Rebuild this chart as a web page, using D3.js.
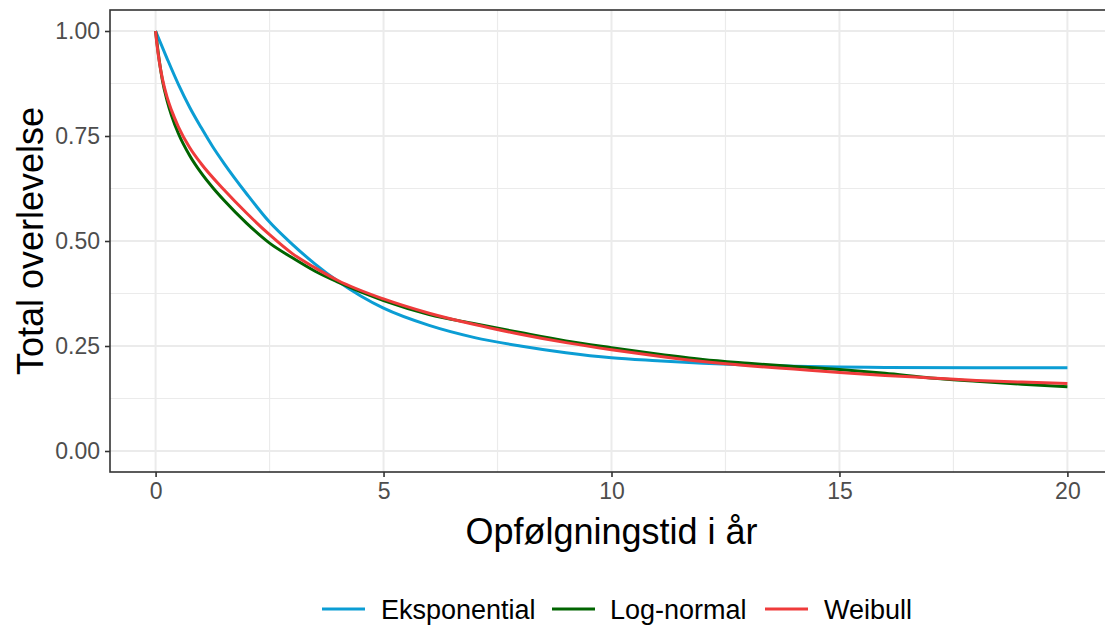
<!DOCTYPE html>
<html>
<head>
<meta charset="utf-8">
<script src="https://cdn.jsdelivr.net/npm/d3@7"></script>
<style>
  html, body { margin: 0; padding: 0; background: #ffffff; }
  svg { display: block; }
  text { font-family: "Liberation Sans", Arial, sans-serif; }
</style>
</head>
<body>
<svg id="chart" width="1105" height="626"></svg>
<script>
// ---- data ----
const seriesNames = ["Eksponential", "Log-normal", "Weibull"];
const seriesColors = ["#0b9dd4", "#006400", "#ef3b3b"];

const timeExp = [0, 0.25, 0.5, 0.75, 1, 1.25, 1.5, 2, 2.5, 3, 3.5, 4, 4.5, 5, 6, 7, 8, 9, 10, 11, 12, 13, 14, 15, 16, 18, 20];
const survExp = [1, 0.935, 0.873, 0.818, 0.770, 0.725, 0.685, 0.612, 0.545, 0.492, 0.445, 0.404, 0.369, 0.340, 0.299, 0.270, 0.250, 0.234, 0.222, 0.215, 0.209, 0.205, 0.202, 0.200, 0.199, 0.198, 0.198];

const timeLn = [0, 0.03, 0.08, 0.15, 0.25, 0.35, 0.5, 0.75, 1, 1.27, 1.5, 2, 2.5, 3, 3.5, 4, 5, 6, 7, 8, 9, 10, 11, 12, 13, 14, 15, 16, 17, 18, 19, 20];
const survLn = [1, 0.972, 0.93, 0.882, 0.835, 0.799, 0.756, 0.703, 0.662, 0.625, 0.597, 0.542, 0.495, 0.460, 0.428, 0.402, 0.358, 0.325, 0.303, 0.282, 0.262, 0.246, 0.231, 0.218, 0.209, 0.201, 0.194, 0.185, 0.174, 0.166, 0.159, 0.153];

const timeWb = [0, 0.03, 0.08, 0.15, 0.25, 0.35, 0.5, 0.75, 1, 1.5, 2, 2.5, 3, 3.5, 4, 5, 6, 7, 8, 9, 10, 11, 12, 13, 14, 15, 16, 17, 18, 19, 20];
const survWb = [1, 0.968, 0.928, 0.886, 0.843, 0.811, 0.772, 0.722, 0.684, 0.622, 0.566, 0.515, 0.470, 0.436, 0.406, 0.362, 0.328, 0.301, 0.278, 0.258, 0.241, 0.226, 0.213, 0.203, 0.195, 0.187, 0.180, 0.174, 0.168, 0.164, 0.161];

const xTicks = [0, 5, 10, 15, 20];
const xMinor = [2.5, 7.5, 12.5, 17.5];
const yTicks = [0, 0.25, 0.5, 0.75, 1];
const yMinor = [0.125, 0.375, 0.625, 0.875];
const yTickLabels = ["0.00", "0.25", "0.50", "0.75", "1.00"];

const xTitle = "Opfølgningstid i år";
const yTitle = "Total overlevelse";

// ---- layout ----
const panel = { left: 110, top: 10, right: 1113, bottom: 472 };
const svg = d3.select("#chart");

const x = d3.scaleLinear().domain([-1, 21]).range([panel.left, panel.right]);
const y = d3.scaleLinear().domain([-0.05, 1.05]).range([panel.bottom, panel.top]);

svg.append("defs").append("clipPath").attr("id", "clip")
  .append("rect")
  .attr("x", panel.left).attr("y", panel.top)
  .attr("width", panel.right - panel.left).attr("height", panel.bottom - panel.top);

const g = svg.append("g");

g.append("rect")
  .attr("x", panel.left).attr("y", panel.top)
  .attr("width", panel.right - panel.left).attr("height", panel.bottom - panel.top)
  .attr("fill", "#ffffff");

// minor grid
g.selectAll("line.xminor").data(xMinor).join("line")
  .attr("x1", d => x(d)).attr("x2", d => x(d))
  .attr("y1", panel.top).attr("y2", panel.bottom)
  .attr("stroke", "#ebebeb").attr("stroke-width", 1.2);
g.selectAll("line.yminor").data(yMinor).join("line")
  .attr("y1", d => y(d)).attr("y2", d => y(d))
  .attr("x1", panel.left).attr("x2", panel.right)
  .attr("stroke", "#ebebeb").attr("stroke-width", 1.2);
// major grid
g.selectAll("line.xmajor").data(xTicks).join("line")
  .attr("x1", d => x(d)).attr("x2", d => x(d))
  .attr("y1", panel.top).attr("y2", panel.bottom)
  .attr("stroke", "#ebebeb").attr("stroke-width", 2);
g.selectAll("line.ymajor").data(yTicks).join("line")
  .attr("y1", d => y(d)).attr("y2", d => y(d))
  .attr("x1", panel.left).attr("x2", panel.right)
  .attr("stroke", "#ebebeb").attr("stroke-width", 2);

// curves
const seriesData = [
  timeExp.map((t, i) => [t, survExp[i]]),
  timeLn.map((t, i) => [t, survLn[i]]),
  timeWb.map((t, i) => [t, survWb[i]])
];
const line = d3.line().x(d => x(d[0])).y(d => y(d[1])).curve(d3.curveMonotoneX);
const curves = svg.append("g").attr("clip-path", "url(#clip)");
seriesData.forEach((s, i) => {
  curves.append("path")
    .attr("d", line(s))
    .attr("fill", "none")
    .attr("stroke", seriesColors[i])
    .attr("stroke-width", 3)
    .attr("stroke-linejoin", "round");
});

// panel border
svg.append("rect")
  .attr("x", panel.left).attr("y", panel.top)
  .attr("width", panel.right - panel.left).attr("height", panel.bottom - panel.top)
  .attr("fill", "none").attr("stroke", "#333333").attr("stroke-width", 1.6);

// axes
const xAxis = d3.axisBottom(x).tickValues(xTicks).tickSize(5).tickPadding(6).tickFormat(d3.format("d"));
const yAxis = d3.axisLeft(y).tickValues(yTicks).tickSize(5).tickPadding(5)
  .tickFormat((d, i) => yTickLabels[i]);

const gx = svg.append("g").attr("transform", `translate(0,${panel.bottom})`).call(xAxis);
const gy = svg.append("g").attr("transform", `translate(${panel.left},0)`).call(yAxis);
[gx, gy].forEach(a => {
  a.select(".domain").remove();
  a.selectAll(".tick line").attr("stroke", "#333333").attr("stroke-width", 1.6);
  a.selectAll(".tick text").attr("fill", "#4d4d4d")
    .style("font-size", "23px").style("font-family", "'Liberation Sans', Arial, sans-serif");
});

// titles
svg.append("text")
  .attr("x", (x(0) + x(20)) / 2)
  .attr("y", 544)
  .attr("text-anchor", "middle")
  .attr("fill", "#000000")
  .style("font-size", "36px")
  .text(xTitle);

svg.append("text")
  .attr("transform", `translate(43,${(panel.top + panel.bottom) / 2}) rotate(-90)`)
  .attr("text-anchor", "middle")
  .attr("fill", "#000000")
  .style("font-size", "36px")
  .text(yTitle);

// legend
const legendItems = [
  { name: seriesNames[0], color: seriesColors[0], keyX: 322, textX: 381 },
  { name: seriesNames[1], color: seriesColors[1], keyX: 552, textX: 610 },
  { name: seriesNames[2], color: seriesColors[2], keyX: 765, textX: 824 }
];
const lg = svg.append("g");
legendItems.forEach(it => {
  lg.append("line")
    .attr("x1", it.keyX).attr("x2", it.keyX + 43)
    .attr("y1", 609).attr("y2", 609)
    .attr("stroke", it.color).attr("stroke-width", 3);
  lg.append("text")
    .attr("x", it.textX).attr("y", 619)
    .attr("fill", "#000000")
    .style("font-size", "27px")
    .text(it.name);
});
</script>
</body>
</html>
